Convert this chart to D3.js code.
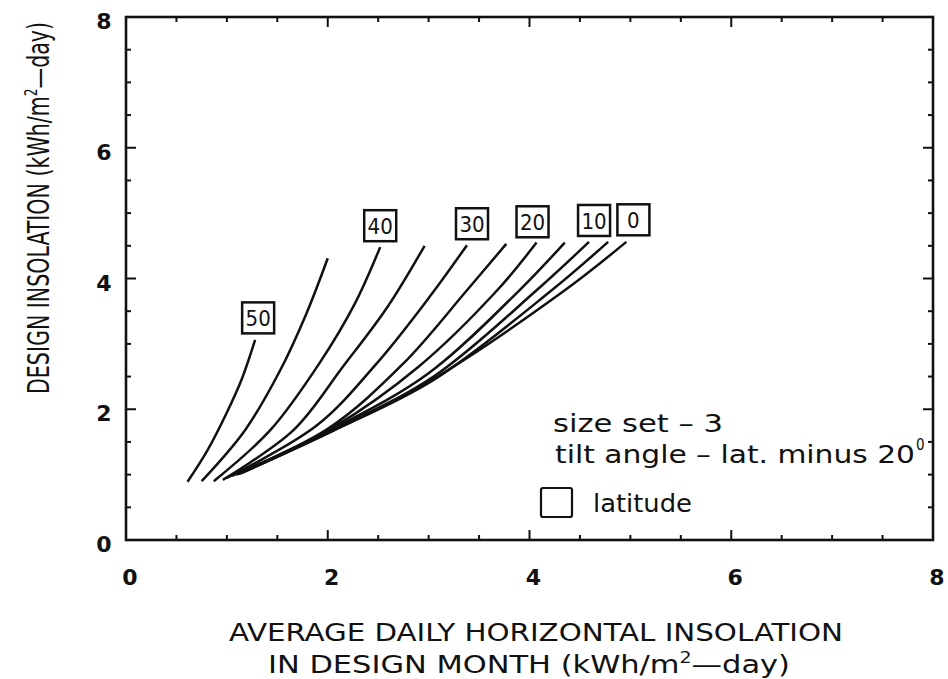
<!DOCTYPE html>
<html>
<head>
<meta charset="utf-8">
<script src="https://cdn.jsdelivr.net/npm/d3@7"></script>
<style>
  body { margin: 0; background: #fff; }
  text { fill: #111; }
</style>
</head>
<body>
<div id="chart"></div>
<script>
// design insolation vs horizontal insolation, one curve per latitude
const lat50 = [[0.61, 0.89], [0.80, 1.35], [1.00, 1.95], [1.15, 2.47], [1.28, 3.06]];
const lat45 = [[0.75, 0.90], [1.18, 1.68], [1.53, 2.60], [1.79, 3.47], [2.00, 4.31]];
const lat40 = [[0.87, 0.90], [1.43, 1.68], [1.92, 2.71], [2.27, 3.62], [2.52, 4.48]];
const lat35 = [[0.96, 0.92], [1.66, 1.68], [2.15, 2.65], [2.59, 3.56], [2.96, 4.50]];
const lat30 = [[1.00, 0.95], [1.89, 1.75], [2.49, 2.71], [3.01, 3.72], [3.38, 4.51]];
const lat25 = [[1.05, 0.98], [2.00, 1.70], [2.75, 2.70], [3.38, 3.82], [3.77, 4.53]];
const lat20 = [[1.08, 1.00], [2.05, 1.72], [2.90, 2.65], [3.68, 3.82], [4.07, 4.55]];
const lat15 = [[1.10, 1.00], [2.05, 1.70], [3.00, 2.55], [3.90, 3.82], [4.35, 4.55]];
const lat10 = [[1.12, 1.01], [2.05, 1.68], [3.05, 2.50], [4.07, 3.82], [4.59, 4.56]];
const lat5  = [[1.13, 1.02], [2.05, 1.67], [3.05, 2.45], [4.22, 3.82], [4.78, 4.56]];
const lat0  = [[1.14, 1.02], [2.05, 1.67], [3.00, 2.42], [4.35, 3.82], [4.96, 4.56]];

const curves = [lat50, lat45, lat40, lat35, lat30, lat25, lat20, lat15, lat10, lat5, lat0];

// boxed latitude labels
const labelText = ["50", "40", "30", "20", "10", "0"];
const labelX = [1.31, 2.52, 3.43, 4.03, 4.64, 5.03];
const labelY = [3.39, 4.80, 4.83, 4.86, 4.88, 4.89];

const xTicks = [0, 2, 4, 6, 8];
const yTicks = [0, 2, 4, 6, 8];
const minorTicks = d3.range(0, 8.01, 0.5);

const w = 948, h = 679;
const svg = d3.select("#chart").append("svg")
              .attr("width", w)
              .attr("height", h);

const x = d3.scaleLinear().domain([0, 8]).range([126, 933]);
const y = d3.scaleLinear().domain([0, 8]).range([540, 17]);

const ink = "#111";
const font = "'DejaVu Sans Condensed', 'DejaVu Sans', sans-serif";

// frame
svg.append("rect")
   .attr("x", x(0)).attr("y", y(8))
   .attr("width", x(8) - x(0)).attr("height", y(0) - y(8))
   .attr("fill", "none").attr("stroke", ink).attr("stroke-width", 2.6);

const tickLen = v => (v % 2 === 0 ? 10 : 5);
const inner = minorTicks.filter(v => v > 0 && v < 8);

// bottom + top ticks
svg.selectAll("line.xb").data(inner).enter().append("line")
   .attr("x1", d => x(d)).attr("x2", d => x(d))
   .attr("y1", y(0)).attr("y2", d => y(0) - tickLen(d))
   .attr("stroke", ink).attr("stroke-width", 2);
svg.selectAll("line.xt").data(inner).enter().append("line")
   .attr("x1", d => x(d)).attr("x2", d => x(d))
   .attr("y1", y(8)).attr("y2", d => y(8) + tickLen(d))
   .attr("stroke", ink).attr("stroke-width", 2);
// left + right ticks
svg.selectAll("line.yl").data(inner).enter().append("line")
   .attr("y1", d => y(d)).attr("y2", d => y(d))
   .attr("x1", x(0)).attr("x2", d => x(0) + tickLen(d))
   .attr("stroke", ink).attr("stroke-width", 2);
svg.selectAll("line.yr").data(inner).enter().append("line")
   .attr("y1", d => y(d)).attr("y2", d => y(d))
   .attr("x1", x(8)).attr("x2", d => x(8) - tickLen(d))
   .attr("stroke", ink).attr("stroke-width", 2);

// tick labels
svg.selectAll("text.xl").data(xTicks).enter().append("text")
   .attr("x", d => x(d) + 4).attr("y", y(0) + 45)
   .attr("text-anchor", "middle")
   .style("font", "bold 22px 'DejaVu Sans', sans-serif")
   .text(d => d);
svg.selectAll("text.yl").data(yTicks).enter().append("text")
   .attr("x", x(0) - 22).attr("y", d => y(d) + 12)
   .attr("text-anchor", "middle")
   .style("font", "bold 22px 'DejaVu Sans', sans-serif")
   .text(d => d);

// curves
const line = d3.line()
               .x(d => x(d[0]))
               .y(d => y(d[1]))
               .curve(d3.curveCatmullRom.alpha(0.5));

svg.selectAll("path.lat").data(curves).enter().append("path")
   .attr("d", line)
   .attr("fill", "none")
   .attr("stroke", ink)
   .attr("stroke-width", 2.5);

// boxed labels
const lab = svg.selectAll("g.lab").data(labelText).enter().append("g")
               .attr("transform", (d, i) => `translate(${x(labelX[i])},${y(labelY[i])})`);
lab.append("rect")
   .attr("x", -16).attr("y", -16).attr("width", 32).attr("height", 31)
   .attr("fill", "#fff").attr("stroke", ink).attr("stroke-width", 2.5);
lab.append("text")
   .attr("text-anchor", "middle").attr("y", 8)
   .style("font", `500 22px ${font}`)
   .text(d => d);

// legend text
const leg = svg.append("g").style("font", `25px ${font}`);
leg.append("text").attr("x", 553).attr("y", 432)
   .attr("textLength", 170).attr("lengthAdjust", "spacingAndGlyphs")
   .text("size set \u2013 3");
leg.append("text").attr("x", 555).attr("y", 463)
   .attr("textLength", 360).attr("lengthAdjust", "spacingAndGlyphs")
   .text("tilt angle \u2013 lat. minus 20");
leg.append("text").attr("x", 916).attr("y", 450)
   .style("font-size", "15px").text("0");
leg.append("rect")
   .attr("x", 541).attr("y", 488).attr("width", 31).attr("height", 29)
   .attr("fill", "none").attr("stroke", ink).attr("stroke-width", 2.2).attr("rx", 2);
leg.append("text").attr("x", 593).attr("y", 512)
   .attr("textLength", 99).attr("lengthAdjust", "spacingAndGlyphs")
   .text("latitude");

// axis titles
const xt = svg.append("g").style("font", `24px ${font}`).attr("text-anchor", "middle");
xt.append("text").attr("x", 536).attr("y", 641)
  .attr("textLength", 614).attr("lengthAdjust", "spacingAndGlyphs")
  .text("AVERAGE DAILY HORIZONTAL INSOLATION");
const xt2 = xt.append("text").attr("x", 529).attr("y", 673)
              .attr("textLength", 522).attr("lengthAdjust", "spacingAndGlyphs");
xt2.append("tspan").text("IN DESIGN MONTH (kWh/m");
xt2.append("tspan").attr("dy", -10).style("font-size", "15px").text("2");
xt2.append("tspan").attr("dy", 10).text("\u2014day)");

const yt = svg.append("text")
              .attr("transform", "translate(49,208) rotate(-90)")
              .attr("text-anchor", "middle")
              .attr("textLength", 372).attr("lengthAdjust", "spacingAndGlyphs")
              .style("font", `30px ${font}`);
yt.append("tspan").text("DESIGN INSOLATION (kWh/m");
yt.append("tspan").attr("dy", -12).style("font-size", "18px").text("2");
yt.append("tspan").attr("dy", 12).text("\u2014day)");
</script>
</body>
</html>
